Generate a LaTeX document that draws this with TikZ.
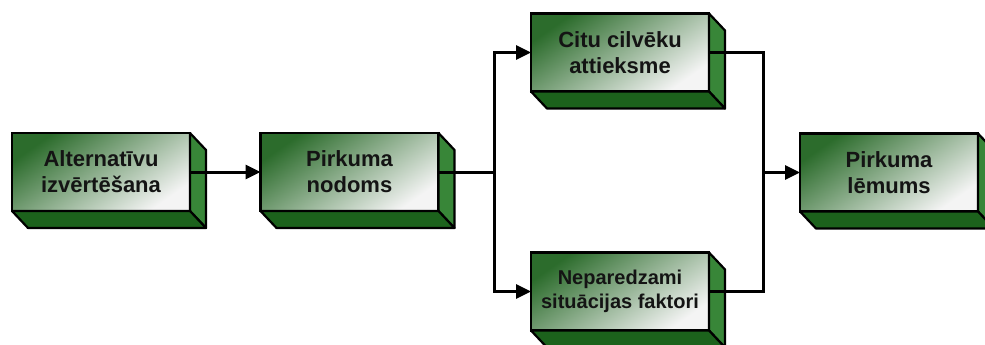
\documentclass[tikz,border=0pt]{standalone}
\usepackage{fontspec}
\setmainfont{Liberation Sans}
\usetikzlibrary{arrows.meta,calc}
\definecolor{facedark}{RGB}{44,108,44}
\definecolor{facemid}{RGB}{128,160,128}
\definecolor{facelight}{RGB}{244,244,244}
\definecolor{sidegreen}{RGB}{56,134,56}
\definecolor{bottomgreen}{RGB}{28,98,28}
\definecolor{ink}{RGB}{20,20,20}
\tikzset{
  x=1pt, y=-1pt,
  stepbox/.style={draw=black, line width=2.2pt, outer sep=0pt, inner sep=0pt,
    minimum width=178pt, minimum height=78pt, align=center, text=ink,
    top color=facedark, middle color=facemid, bottom color=facelight,
    shading angle=35,
    font=\bfseries\fontsize{22}{26}\selectfont},
  sideface/.style={draw=black, line width=2.2pt, line join=round, fill=sidegreen},
  bottomface/.style={draw=black, line width=2.2pt, line join=round, fill=bottomgreen},
  conn/.style={draw=black, line width=3pt,
    {Triangle[length=15pt,width=14pt]}-{Triangle[length=15pt,width=14pt]}},
  connto/.style={draw=black, line width=3pt, -{Triangle[length=15pt,width=14pt]}},
  plain/.style={draw=black, line width=3pt}
}
% right and bottom faces of an extruded box
\newcommand\boxdepth[1]{%
  \draw[sideface] (#1.north east) -- ++(16,17) -- ++(0,78) -- (#1.south east) -- cycle;
  \draw[bottomface] (#1.south west) -- (#1.south east) -- ++(16,17)
    -- ([shift={(16,17)}]#1.south west) -- cycle;
}
\begin{document}
\begin{tikzpicture}
\useasboundingbox (0,0) rectangle (985,345);

\node[stepbox] (alt) at (101,172) {Alternatīvu\\izvērtēšana};
\node[stepbox] (nod) at (349.5,172) {Pirkuma\\nodoms};
\node[stepbox] (cit) at (620,52.5) {Citu cilvēku\\attieksme};
\node[stepbox, font=\bfseries\fontsize{20}{24}\selectfont] (nep) at (620,291.5) {Neparedzami\\situācijas faktori};
\node[stepbox] (lem) at (889,172.5) {Pirkuma\\lēmums};

\boxdepth{alt}
\boxdepth{nod}
\boxdepth{cit}
\boxdepth{nep}
\boxdepth{lem}

\coordinate (split) at (494,172);
\coordinate (join) at (763,172.5);

\draw[connto] (alt.east) -- (nod.west);
\draw[plain] (nod.east) -- (split);
\draw[conn] (cit.west) -| (split) |- (nep.west);
\draw[plain, line join=miter] (cit.east) -| (join) |- (nep.east);
\draw[connto] (join) -- (lem.west);
\end{tikzpicture}
\end{document}
